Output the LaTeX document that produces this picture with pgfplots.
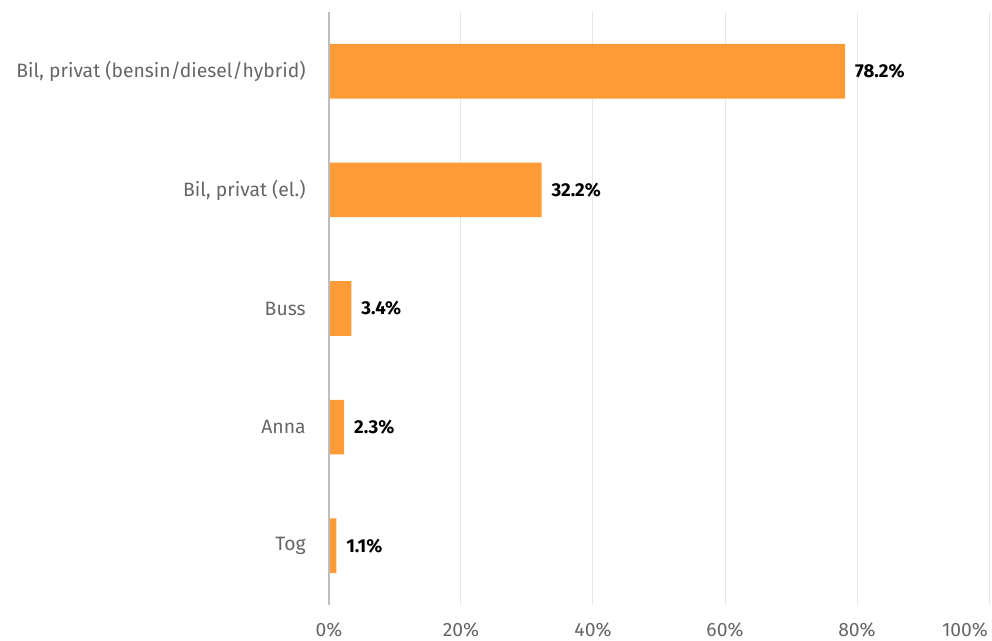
\documentclass[border=0pt]{standalone}
\usepackage{pgfplots}
\pgfplotsset{compat=1.18}
\usepackage{fontspec}
\setmainfont{Fira Sans}
\definecolor{barc}{RGB}{255,155,55}
\definecolor{lbl}{RGB}{102,102,102}
\definecolor{gridc}{RGB}{230,230,230}
\definecolor{axc}{RGB}{190,190,190}
\begin{document}
\begin{tikzpicture}
\path[use as bounding box] (-246.75pt,-26.25pt) rectangle (497.25pt,453.75pt);
\begin{axis}[
  at={(0,0)}, anchor=south west,
  scale only axis,
  width=495pt, height=444.75pt,
  xbar, bar width=41pt,
  xmin=0, xmax=100,
  ymin=-0.5, ymax=4.5,
  xtick={0,20,40,60,80},
  extra x ticks={100},
  extra x tick style={grid=major, xticklabel style={xshift=-18pt}},
  xticklabel={\pgfmathprintnumber{\tick}\%},
  ytick={0,1,2,3,4},
  yticklabels={Tog,Anna,Buss,{Bil, privat (el.)},{Bil, privat (bensin/diesel/hybrid)}},
  /pgf/number format/assume math mode=true,
  tick label style={font=\fontsize{14.5pt}{16pt}\selectfont, text=lbl},
  yticklabel style={xshift=-14pt},
  xticklabel style={yshift=-10pt},
  axis line style={draw=none},
  major tick length=0pt,
  xmajorgrids, grid style={gridc, line width=0.75pt},
  nodes near coords={\pgfmathprintnumber[fixed,fixed zerofill,precision=1]{\pgfplotspointmeta}\%},
  nodes near coords style={font=\bfseries\fontsize{14pt}{16pt}\selectfont, text=black, anchor=west, xshift=4pt},
  point meta=explicit,
  clip=false,
]
\addplot[fill=barc, draw=none] coordinates {(1.1,0) [1.1] (2.3,1) [2.3] (3.4,2) [3.4] (32.2,3) [32.2] (78.2,4) [78.2]};
\draw[axc, line width=0.9pt] (axis cs:0,-0.5) -- (axis cs:0,4.5);
\end{axis}
\end{tikzpicture}
\end{document}
